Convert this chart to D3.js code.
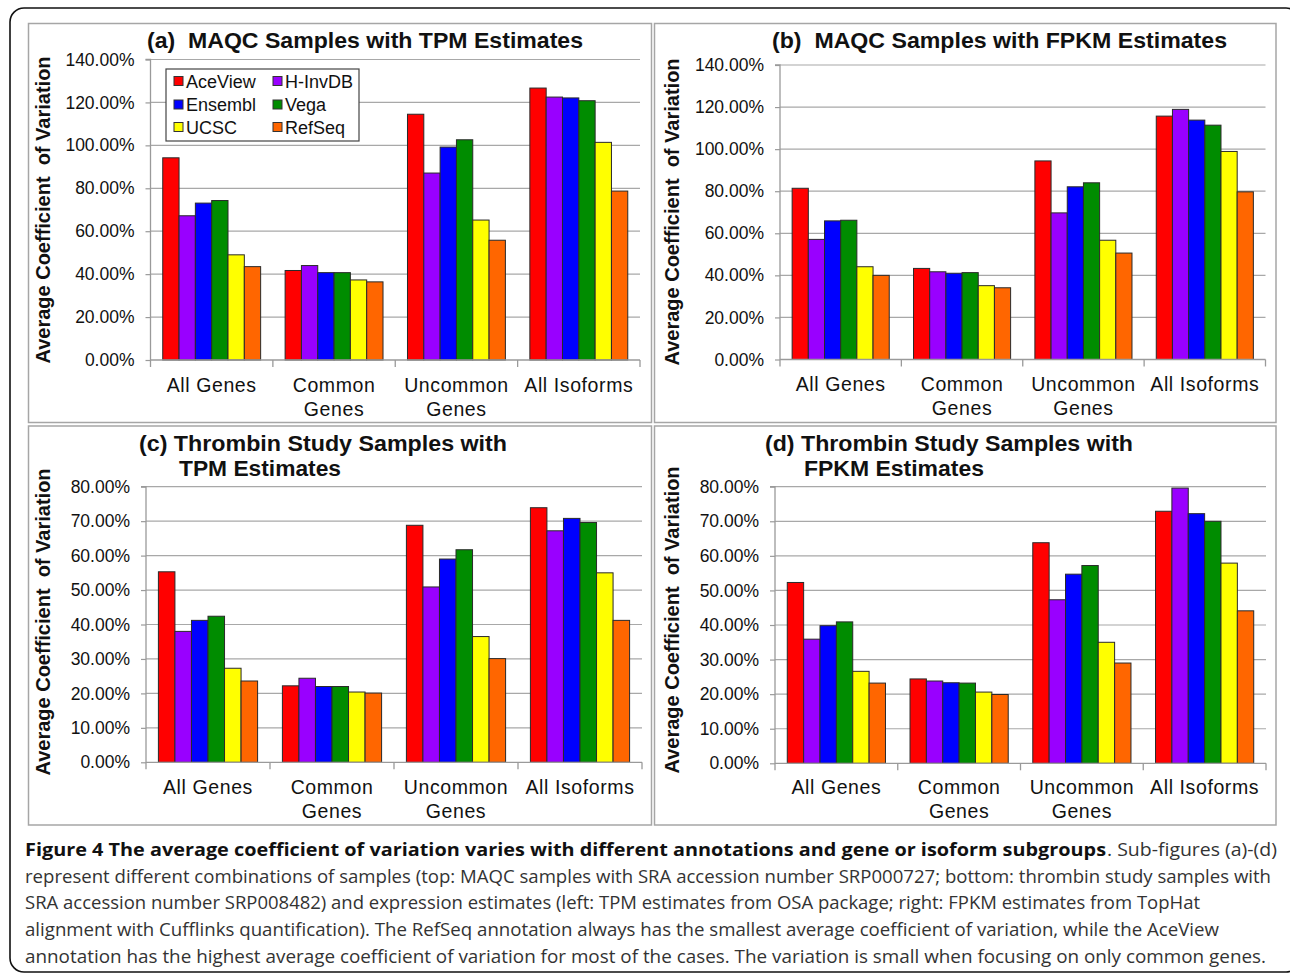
<!DOCTYPE html>
<html>
<head>
<meta charset="utf-8">
<script src="https://cdn.jsdelivr.net/npm/d3@7"></script>
<style>
  body { margin: 0; background: #fff; }
  svg text { font-family: "Liberation Sans", Arial, sans-serif; white-space: pre; }
  .caption { font-family: "Open Sans", sans-serif !important; }
</style>
</head>
<body>
<svg id="fig" width="1290" height="974"></svg>
<script>
// categories (multi-line labels) and annotations
var categories = [["All Genes"], ["Common", "Genes"], ["Uncommon", "Genes"], ["All Isoforms"]];
var annotations = ["AceView", "H-InvDB", "Ensembl", "Vega", "UCSC", "RefSeq"];
var annotationColors = ["#ff0000", "#9900ff", "#0000ff", "#008c00", "#ffff00", "#ff6600"];

var maqcTicks = [0, 20, 40, 60, 80, 100, 120, 140];
var thrombinTicks = [0, 10, 20, 30, 40, 50, 60, 70, 80];

// values in %, one row per annotation, columns follow categories
var maqcTpm = [
  [94.2, 41.7, 114.5, 126.7],
  [67.2, 44.0, 87.1, 122.5],
  [73.1, 40.7, 99.2, 122.1],
  [74.3, 40.7, 102.6, 120.8],
  [49.0, 37.3, 65.2, 101.4],
  [43.5, 36.4, 55.8, 78.7]
];
var maqcFpkm = [
  [81.4, 43.3, 94.4, 115.7],
  [57.1, 41.7, 69.7, 118.9],
  [65.9, 41.0, 82.1, 113.8],
  [66.2, 41.3, 84.0, 111.4],
  [44.1, 35.1, 56.7, 98.9],
  [40.0, 34.1, 50.6, 79.7]
];
var thrombinTpm = [
  [55.3, 22.2, 68.8, 73.9],
  [38.0, 24.4, 50.9, 67.2],
  [41.2, 22.0, 59.0, 70.8],
  [42.4, 22.0, 61.7, 69.6],
  [27.3, 20.4, 36.5, 55.0],
  [23.6, 20.1, 30.1, 41.2]
];
var thrombinFpkm = [
  [52.3, 24.4, 63.8, 72.9],
  [35.9, 23.8, 47.3, 79.6],
  [39.8, 23.3, 54.7, 72.2],
  [40.9, 23.2, 57.2, 70.0],
  [26.6, 20.6, 35.0, 57.9],
  [23.2, 19.9, 29.0, 44.1]
];

var captionBold = "Figure 4 The average coefficient of variation varies with different annotations and gene or isoform subgroups";
var captionLines = [
  ". Sub-figures (a)-(d)",
  "represent different combinations of samples (top: MAQC samples with SRA accession number SRP000727; bottom: thrombin study samples with",
  "SRA accession number SRP008482) and expression estimates (left: TPM estimates from OSA package; right: FPKM estimates from TopHat",
  "alignment with Cufflinks quantification). The RefSeq annotation always has the smallest average coefficient of variation, while the AceView",
  "annotation has the highest average coefficient of variation for most of the cases. The variation is small when focusing on only common genes."
];

var svg = d3.select("#fig");

// outer frame (right edge runs off the picture)
svg.append("rect")
  .attr("x", 10).attr("y", 8).attr("width", 1290).attr("height", 964)
  .attr("rx", 14)
  .attr("fill", "none").attr("stroke", "#111").attr("stroke-width", 1.6);

// panel layouts: title = [text, x, baseline, width]
var panels = [
  { values: maqcTpm, ticks: maqcTicks, box: [28.5, 23.5, 651.5, 422.5],
    x0: 150.5, x1: 640, yTop: 59.5, y0: 360,
    titles: [["(a)  MAQC Samples with TPM Estimates", 147, 48, 436]],
    yLabel: [50, 210], catY: 392, legend: true },
  { values: maqcFpkm, ticks: maqcTicks, box: [654.5, 23.5, 1276, 422.5],
    x0: 780, x1: 1265.5, yTop: 65, y0: 359.5,
    titles: [["(b)  MAQC Samples with FPKM Estimates", 772, 48, 455]],
    yLabel: [679, 212], catY: 391, legend: false },
  { values: thrombinTpm, ticks: thrombinTicks, box: [28.5, 426, 651.5, 825],
    x0: 146, x1: 642, yTop: 486.7, y0: 762.3,
    titles: [["(c) Thrombin Study Samples with", 139, 450.5, 368], ["TPM Estimates", 179, 476, 162]],
    yLabel: [50, 622], catY: 794, legend: false },
  { values: thrombinFpkm, ticks: thrombinTicks, box: [654.5, 426, 1276, 825],
    x0: 775, x1: 1266, yTop: 486.7, y0: 763.3,
    titles: [["(d) Thrombin Study Samples with", 765, 450.5, 368], ["FPKM Estimates", 804, 476, 180]],
    yLabel: [679, 620], catY: 794, legend: false }
];

panels.forEach(function (p) {
  var g = svg.append("g");

  // panel border
  g.append("rect")
    .attr("x", p.box[0]).attr("y", p.box[1])
    .attr("width", p.box[2] - p.box[0]).attr("height", p.box[3] - p.box[1])
    .attr("fill", "none").attr("stroke", "#a6a6a6").attr("stroke-width", 1.5);

  var x = d3.scaleBand().domain(d3.range(categories.length)).range([p.x0, p.x1]).padding(0);
  var xs = d3.scaleBand().domain(d3.range(annotations.length))
    .range([0, x.bandwidth()]).paddingInner(0).paddingOuter(0.75);
  var y = d3.scaleLinear().domain([0, d3.max(p.ticks)]).range([p.y0, p.yTop]);

  // gridlines
  g.selectAll(".grid")
    .data(p.ticks.filter(function (t) { return t > 0; }))
    .enter().append("line")
    .attr("x1", p.x0).attr("x2", p.x1)
    .attr("y1", function (d) { return y(d); }).attr("y2", function (d) { return y(d); })
    .attr("stroke", "#a8a8a8").attr("stroke-width", 1.2);

  // y axis
  var yAxis = d3.axisLeft(y)
    .tickValues(p.ticks)
    .tickSize(5)
    .tickPadding(11)
    .tickFormat(function (d) { return d.toFixed(2) + "%"; });
  var ya = g.append("g").attr("transform", "translate(" + p.x0 + ",0)").call(yAxis);
  ya.select(".domain").attr("stroke", "#9a9a9a").attr("stroke-width", 1.3)
    .attr("d", "M-5," + p.yTop + "H0V" + (p.y0 + 7));
  ya.selectAll(".tick line").attr("stroke", "#9a9a9a").attr("stroke-width", 1.2);
  ya.selectAll(".tick text")
    .attr("font-size", "17.5px")
    .attr("fill", "#111");

  // bars
  var groups = g.selectAll(".cat")
    .data(categories)
    .enter().append("g")
    .attr("transform", function (d, i) { return "translate(" + x(i) + ",0)"; });

  groups.selectAll("rect")
    .data(function (d, ci) {
      return annotations.map(function (a, si) { return { s: si, v: p.values[si][ci] }; });
    })
    .enter().append("rect")
    .attr("x", function (d) { return xs(d.s); })
    .attr("width", xs.bandwidth())
    .attr("y", function (d) { return y(d.v); })
    .attr("height", function (d) { return y(0) - y(d.v); })
    .attr("fill", function (d) { return annotationColors[d.s]; })
    .attr("stroke", "#2a2a2a")
    .attr("stroke-width", 1);

  // x axis line with boundary ticks
  g.append("line")
    .attr("x1", p.x0).attr("x2", p.x1).attr("y1", p.y0).attr("y2", p.y0)
    .attr("stroke", "#9a9a9a").attr("stroke-width", 1.3);
  var bounds = d3.range(categories.length).map(function (i) { return x(i); }).concat([p.x1]);
  g.selectAll(".xtick")
    .data(bounds.slice(1))
    .enter().append("line")
    .attr("x1", function (d) { return d; }).attr("x2", function (d) { return d; })
    .attr("y1", p.y0).attr("y2", p.y0 + 7)
    .attr("stroke", "#9a9a9a").attr("stroke-width", 1.3);

  // category labels
  var labels = g.selectAll(".catlabel")
    .data(categories)
    .enter().append("text")
    .attr("text-anchor", "middle")
    .attr("font-size", "19.5px")
    .attr("letter-spacing", "0.6px")
    .attr("fill", "#111");
  labels.selectAll("tspan")
    .data(function (d, i) { return d.map(function (t) { return { t: t, i: i }; }); })
    .enter().append("tspan")
    .attr("x", function (d) { return x(d.i) + x.bandwidth() / 2; })
    .attr("y", function (d, j) { return p.catY + j * 24; })
    .text(function (d) { return d.t; });

  // titles
  p.titles.forEach(function (t) {
    g.append("text")
      .attr("x", t[1]).attr("y", t[2])
      .attr("font-size", "22px").attr("font-weight", "bold")
      .attr("textLength", t[3]).attr("lengthAdjust", "spacingAndGlyphs")
      .attr("fill", "#111")
      .text(t[0]);
  });

  // y axis title
  g.append("text")
    .attr("transform", "translate(" + p.yLabel[0] + "," + p.yLabel[1] + ") rotate(-90)")
    .attr("text-anchor", "middle")
    .attr("font-size", "20px").attr("font-weight", "bold")
    .attr("fill", "#111")
    .text("Average Coefficient  of Variation");

  if (p.legend) {
    var lg = g.append("g");
    lg.append("rect")
      .attr("x", 166).attr("y", 69).attr("width", 193).attr("height", 72)
      .attr("fill", "#fff").attr("stroke", "#444").attr("stroke-width", 1.2);
    var item = lg.selectAll(".item")
      .data(annotations)
      .enter().append("g")
      .attr("transform", function (d, i) {
        return "translate(" + (i % 2 === 0 ? 174 : 273) + "," + [81, 104.5, 127][Math.floor(i / 2)] + ")";
      });
    item.append("rect")
      .attr("x", 0).attr("y", -4.5).attr("width", 9).attr("height", 9)
      .attr("fill", function (d, i) { return annotationColors[i]; })
      .attr("stroke", "#333").attr("stroke-width", 1);
    item.append("text")
      .attr("x", 12).attr("y", 6.5)
      .attr("font-size", "18px").attr("fill", "#111")
      .text(function (d) { return d; });
  }
});

// caption
var cap = svg.append("g").attr("class", "caption");
var capY = [856, 883, 909, 936, 963];
cap.append("text")
  .attr("class", "caption")
  .attr("x", 25).attr("y", capY[0])
  .attr("font-size", "18px").attr("font-weight", "bold").attr("fill", "#111")
  .attr("textLength", 1081).attr("lengthAdjust", "spacingAndGlyphs")
  .text(captionBold);
var capEnds = [1277, 1271, 1200, 1219, 1266];
captionLines.forEach(function (line, i) {
  var x0 = i === 0 ? 1107 : 25;
  cap.append("text")
    .attr("class", "caption")
    .attr("x", x0).attr("y", capY[i])
    .attr("font-size", "18px").attr("fill", "#333")
    .attr("textLength", capEnds[i] - x0).attr("lengthAdjust", "spacingAndGlyphs")
    .text(line);
});
</script>
</body>
</html>
